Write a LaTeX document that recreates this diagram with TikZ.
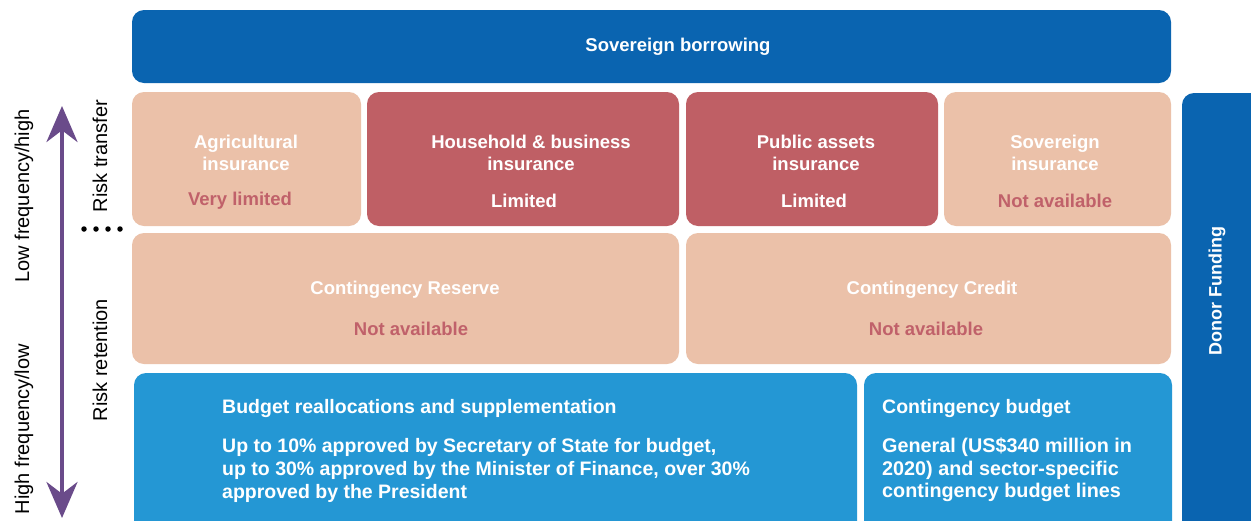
\documentclass[tikz,border=0pt]{standalone}
\usepackage{fontspec}
\setmainfont{Liberation Sans}
\usetikzlibrary{arrows.meta}
\definecolor{dblue}{HTML}{0A64B0}
\definecolor{mblue}{HTML}{2497D4}
\definecolor{peach}{HTML}{EBC1A9}
\definecolor{rose}{HTML}{BF5F65}
\definecolor{rosetxt}{HTML}{C0616A}
\definecolor{purp}{HTML}{6A4B8A}
\begin{document}
\begin{tikzpicture}[x=1pt,y=-1pt,
  box/.style={rounded corners=12pt, inner sep=0pt, draw=none},
  txt/.style={font=\fontsize{18.5}{22}\selectfont\bfseries, text=white, align=center, inner sep=0pt},
  stat/.style={font=\fontsize{18.5}{22}\selectfont\bfseries, text=rosetxt, inner sep=0pt},
  btxt/.style={font=\fontsize{19.5}{23}\selectfont\bfseries, text=white, align=left, inner sep=0pt, anchor=west},
  side/.style={font=\fontsize{20}{24}\selectfont, rotate=90, inner sep=0pt},
  dot/.style={circle, fill=black, inner sep=0pt, minimum size=5.5pt}]
\clip (0,0) rectangle (1251,520);
\fill[white] (0,0) rectangle (1251,520);
% boxes
\node[box, fill=dblue, minimum width=1039pt, minimum height=73pt] (sov) at (651.5,46.5) {};
\node[box, fill=peach, minimum width=229pt, minimum height=134pt] (agri) at (246.5,159) {};
\node[box, fill=rose, minimum width=312pt, minimum height=134pt] (house) at (523,159) {};
\node[box, fill=rose, minimum width=252pt, minimum height=134pt] (pub) at (812,159) {};
\node[box, fill=peach, minimum width=227pt, minimum height=134pt] (sovins) at (1057.5,159) {};
\node[box, fill=peach, minimum width=547pt, minimum height=131pt] (cres) at (405.5,298.5) {};
\node[box, fill=peach, minimum width=485pt, minimum height=131pt] (ccred) at (928.5,298.5) {};
\node[box, fill=mblue, minimum width=723pt, minimum height=167pt] (budg) at (495.5,456.5) {};
\node[box, fill=mblue, minimum width=308pt, minimum height=167pt] (cbud) at (1018,456.5) {};
\node[box, fill=dblue, minimum width=88pt, minimum height=447pt] (donor) at (1226,316.5) {};
% texts
\node[txt] (sovt) at (678,47) {Sovereign borrowing};
\node[txt] (agrit) at (246,153) {Agricultural\\insurance};
\node[stat] (agris) at (240,201) {Very limited};
\node[txt] (houset) at (531,153) {Household \& business\\insurance};
\node[txt] (houses) at (524,201) {Limited};
\node[txt] (pubt) at (816,153) {Public assets\\insurance};
\node[txt] (pubs) at (814,201) {Limited};
\node[txt] (sovinst) at (1055,153) {Sovereign\\insurance};
\node[stat] (sovinss) at (1055,201) {Not available};
\node[txt] (crest) at (405,290) {Contingency Reserve};
\node[stat] (cress) at (411,329) {Not available};
\node[txt] (ccredt) at (932,290) {Contingency Credit};
\node[stat] (ccreds) at (926,329) {Not available};
\node[btxt] (budgt) at (222,408) {Budget reallocations and supplementation};
\node[btxt] (budgp) at (222,470) {Up to 10\% approved by Secretary of State for budget,\\up to 30\% approved by the Minister of Finance, over 30\%\\approved by the President};
\node[btxt] (cbudt) at (882,408) {Contingency budget};
\node[btxt, font=\fontsize{19.8}{22.5}\selectfont\bfseries] (cbudp) at (882,470) {General (US\$340 million in\\2020) and sector-specific\\contingency budget lines};
\node[font=\fontsize{18}{22}\selectfont\bfseries, text=white, rotate=90, inner sep=0pt] (donort) at (1217,291) {Donor Funding};
% side labels
\node[side] (lowf) at (24,196) {Low frequency/high};
\node[side] (highf) at (24,429) {High frequency/low};
\node[side] (rtr) at (100,156) {Risk transfer};
\node[side] (rret) at (100,360) {Risk retention};
% arrow
\coordinate (atop) at (62,106);
\coordinate (abot) at (62,518);
\draw[purp, line width=4pt, {Stealth[length=36pt,width=31pt]}-{Stealth[length=36pt,width=31pt]}] (atop) -- (abot);
% dots
\node[dot] (d1) at (84,229) {};
\node[dot] (d2) at (96,229) {};
\node[dot] (d3) at (108,229) {};
\node[dot] (d4) at (120,229) {};
\end{tikzpicture}
\end{document}
